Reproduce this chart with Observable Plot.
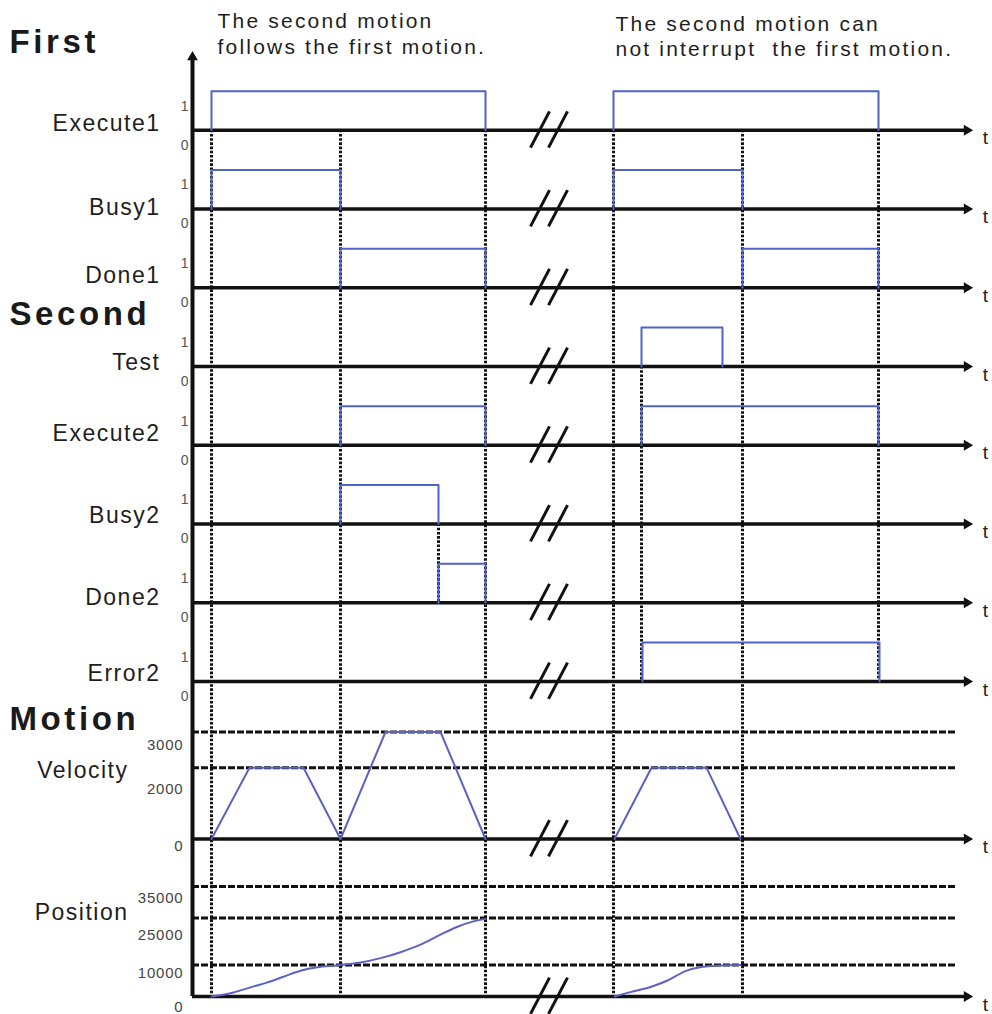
<!DOCTYPE html>
<html>
<head>
<meta charset="utf-8">
<script src="https://cdn.jsdelivr.net/npm/d3@7"></script>
<script src="https://cdn.jsdelivr.net/npm/@observablehq/plot@0.6"></script>
<style>
  html, body { margin: 0; padding: 0; background: #fff; }
  #chart { position: relative; width: 992px; height: 1014px; overflow: hidden; background: #fff; }
  #chart svg { position: absolute; left: 0; top: 0; }
</style>
</head>
<body>
<div id="chart"></div>
<script>
// ================= DATA =================
// time is in arbitrary diagram units (left part: first + second motion, right part after the break)
const signalNames = ["Execute1", "Busy1", "Done1", "Test", "Execute2", "Busy2", "Done2", "Error2"];
// each pulse = [rise time, fall time]
const execute1 = [[0, 274], [402, 667]];
const busy1    = [[0, 129], [402, 531]];
const done1    = [[129, 274], [531, 667]];
const test     = [[430, 511]];
const execute2 = [[129, 274], [430, 667]];
const busy2    = [[129, 227]];
const done2    = [[227, 274]];
const error2   = [[431, 668]];
const levelTicks = [0, 1];

// velocity profile [time, velocity]
const velocityFirst  = [[0, 0], [38, 2000], [92, 2000], [129, 0]];
const velocitySecond = [[129, 0], [174, 3000], [229, 3000], [274, 0]];
const velocityRight  = [[403, 0], [440, 2000], [495, 2000], [529, 0]];
const velocityTicks  = [0, 2000, 3000];
const velocityGuides = [2000, 3000];

// position profile [time, position]
const positionFirst  = [[0, 0], [22, 1300], [39, 2900], [56, 4500], [72, 6300], [89, 8200], [106, 9300], [122, 9800], [129, 10000]];
const positionSecond = [[129, 10000], [149, 10800], [169, 12200], [189, 14100], [209, 16500], [229, 19700], [246, 22200], [262, 23900], [274, 24700]];
const positionRight  = [[403, 0], [419, 1400], [439, 3000], [456, 5100], [476, 8300], [496, 9600], [516, 9950], [529, 10000]];
const positionTicks  = [0, 10000, 25000, 35000];
const positionGuides = [10000, 25000, 35000];

// dotted synchronisation lines: time, first lane, last lane
const syncTimes = [0, 129, 274, 227, 402, 430, 531, 667];
const syncFrom  = ["Execute1", "Execute1", "Execute1", "Busy2", "Execute1", "Test", "Execute1", "Execute1"];
const syncTo    = ["Position", "Position", "Position", "Done2", "Position", "Error2", "Position", "Error2"];

const sectionTitles = ["First", "Second", "Motion"];
const headerLeft  = ["The second motion", "follows the first motion."];
const headerRight = ["The second motion can", "not interrupt  the first motion."];
const motionNames = ["Velocity", "Position"];
const timeLabel = "t";

// ================= LAYOUT =================
const W = 992, H = 1014, ML = 192, MR = 20;
const axisStart = -19, axisEnd = 761, guideEnd = 744, breakAt = [319, 337];
const slotOf = {Execute1: 1, Busy1: 2, Done1: 3, Test: 4, Execute2: 5, Busy2: 6, Done2: 7, Error2: 8, Velocity: 10, Position: 12};
const slotTop = 51, slotStep = 78.75;
const basePx = s => slotTop + slotStep * s;
const levelPx = 39;
const labelDy = {Execute1: -7, Busy1: -1, Done1: -12, Test: -4, Execute2: -12, Busy2: -8, Done2: -5, Error2: -8, Velocity: -68, Position: -84};
const titleSlot = [(42.4 - slotTop) / slotStep, (314.4 - slotTop) / slotStep, (719.4 - slotTop) / slotStep];
const headerLeftSlot = [(20.3 - slotTop) / slotStep, (46.3 - slotTop) / slotStep];
const headerRightSlot = [(23.3 - slotTop) / slotStep, (48.3 - slotTop) / slotStep];
const velocityTickDy = [7, 22, 13];
const positionTickDy = [11, 8, 17, 12];

const FONT = "'Liberation Sans', Arial, Helvetica, sans-serif";
const NARROW = "'Liberation Sans Narrow', 'Liberation Sans', Arial, sans-serif";
const INK = "#111";
const BLUE = "#4f63c8";
const MBLUE = "#5c62c2";

const chart = document.getElementById("chart");

function layer(y, marks) {
  const svg = Plot.plot({
    width: W, height: H,
    marginLeft: ML, marginRight: MR, marginTop: 0, marginBottom: 0,
    x: {domain: [axisStart, axisEnd], axis: null},
    y: {...y, axis: null},
    style: {background: "transparent", fontFamily: FONT, overflow: "visible"},
    marks
  });
  chart.appendChild(svg);
  return svg;
}
// letter spacing by text content (Plot has no letterSpacing option)
function spacing(svg, texts, ls) {
  svg.querySelectorAll("text").forEach(t => {
    if (texts.includes(t.textContent)) {
      t.setAttribute("letter-spacing", ls);
      t.style.whiteSpace = "pre";
    }
  });
}

// ---------- frame layer ----------
const laneRows = [...signalNames, ...motionNames].map(name => ({name, slot: slotOf[name]}));
const syncRows = syncTimes.map((t, i) => ({t, from: slotOf[syncFrom[i]], to: slotOf[syncTo[i]]}));
const slashRows = laneRows.flatMap(r => breakAt.map(b => ({x1: b, y1: r.slot + 0.22, x2: b + 19, y2: r.slot - 0.24})));
const titleRows = sectionTitles.map((text, i) => ({text, slot: titleSlot[i]}));
const headerRows = [
  ...headerLeft.map((text, i) => ({text, t: 6, slot: headerLeftSlot[i]})),
  ...headerRight.map((text, i) => ({text, t: 404, slot: headerRightSlot[i]}))
];

const frame = layer({domain: [0, 12], range: [basePx(0), basePx(12)]}, [
  Plot.ruleX(syncRows, {x: "t", y1: "from", y2: "to", stroke: INK, strokeWidth: 3, strokeDasharray: "2.6,1.6"}),
  Plot.ruleY(laneRows, {y: "slot", x1: () => axisStart, x2: () => axisEnd, stroke: INK, strokeWidth: 3.5, insetRight: 6}),
  Plot.dot(laneRows, {x: () => axisEnd, y: "slot", symbol: "triangle", rotate: 90, r: 4, fill: INK, dx: -5.6}),
  Plot.ruleX([axisStart], {x: d => d, y1: () => 0.1, y2: () => 12, stroke: INK, strokeWidth: 4}),
  Plot.dot([axisStart], {x: d => d, y: () => 0, symbol: "triangle", r: 4, fill: INK, dy: 5.6}),
  Plot.link(slashRows, {x1: "x1", y1: "y1", x2: "x2", y2: "y2", stroke: INK, strokeWidth: 3}),
  Plot.text(laneRows, {x: () => axisEnd, y: "slot", text: () => timeLabel, dx: 13, dy: 8, fontSize: 19, fill: "#222"}),
  Plot.text(laneRows.filter(d => !motionNames.includes(d.name)), {y: d => d.slot + labelDy[d.name] / slotStep, text: "name", frameAnchor: "left", dx: -32, textAnchor: "end", fontSize: 23, fill: "#1e1e1e"}),
  Plot.text(laneRows.filter(d => motionNames.includes(d.name)), {y: d => d.slot + labelDy[d.name] / slotStep, text: "name", frameAnchor: "left", dx: -64, textAnchor: "end", fontSize: 23, fill: "#1e1e1e"}),
  Plot.text(titleRows, {y: "slot", text: "text", frameAnchor: "left", dx: -183, textAnchor: "start", fontSize: 33, fontWeight: "bold", fill: "#1a1a1a"}),
  Plot.text(headerRows, {x: "t", y: "slot", text: "text", textAnchor: "start", fontSize: 21, fill: "#1e1e1e"})
]);
spacing(frame, [...signalNames, ...motionNames], 1.5);
spacing(frame, sectionTitles, 3.6);
spacing(frame, [...headerLeft, ...headerRight], 2.2);

// ---------- digital signal layers ----------
const signalPulses = [execute1, busy1, done1, test, execute2, busy2, done2, error2];
signalNames.forEach((name, i) => {
  const b = basePx(slotOf[name]);
  const pts = signalPulses[i].flatMap(([a, e], j) => [
    {t: a, v: 0, j}, {t: a, v: 1, j}, {t: e, v: 1, j}, {t: e, v: 0, j}
  ]);
  layer({domain: [0, 1], range: [b, b - levelPx]}, [
    Plot.text(levelTicks, {y: d => d, text: d => String(d), frameAnchor: "left", dx: -4, dy: 15, textAnchor: "end", fontSize: 14, fontFamily: NARROW, fill: "#555"}),
    Plot.line(pts, {x: "t", y: "v", z: "j", stroke: BLUE, strokeWidth: 2})
  ]);
});

// ---------- velocity layer ----------
const toRows = (series) => series.flatMap((s, seg) => s.map(([t, v]) => ({t, v, seg})));
const vb = basePx(slotOf.Velocity);
const velSvg = layer({domain: [0, 3000], range: [vb, vb - 107]}, [
  Plot.ruleY(velocityGuides, {y: d => d, x1: () => axisStart, x2: () => guideEnd, stroke: INK, strokeWidth: 3, strokeDasharray: "7,2"}),
  ...velocityTicks.map((v, k) => Plot.text([v], {y: d => d, text: d => String(d), frameAnchor: "left", dx: -9, dy: velocityTickDy[k], textAnchor: "end", fontSize: 15, fill: "#444"})),
  Plot.line(toRows([velocityFirst, velocitySecond, velocityRight]), {x: "t", y: "v", z: "seg", stroke: MBLUE, strokeWidth: 2})
]);
spacing(velSvg, velocityTicks.map(String), 0.8);

// ---------- position layer ----------
const pb = basePx(slotOf.Position);
const posSvg = layer({domain: [0, 35000], range: [pb, pb - 110]}, [
  Plot.ruleY(positionGuides, {y: d => d, x1: () => axisStart, x2: () => guideEnd, stroke: INK, strokeWidth: 3, strokeDasharray: "7,2"}),
  ...positionTicks.map((v, k) => Plot.text([v], {y: d => d, text: d => String(d), frameAnchor: "left", dx: -9, dy: positionTickDy[k], textAnchor: "end", fontSize: 15, fill: "#444"})),
  Plot.line(toRows([positionFirst, positionSecond, positionRight]), {x: "t", y: "v", z: "seg", curve: "monotone-x", stroke: MBLUE, strokeWidth: 2})
]);
spacing(posSvg, positionTicks.map(String), 0.8);
</script>
</body>
</html>
